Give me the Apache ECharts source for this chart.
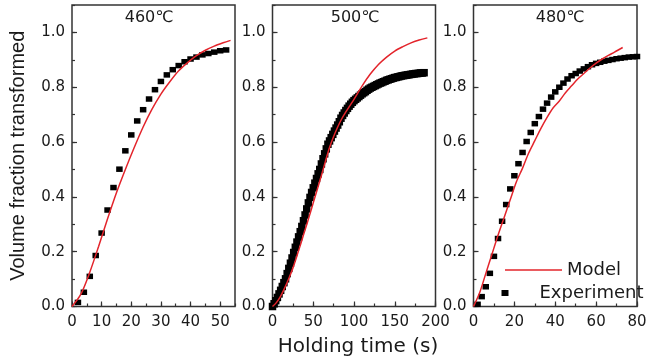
<!DOCTYPE html>
<html><head><meta charset="utf-8">
<script src="https://cdn.jsdelivr.net/npm/echarts@6/dist/echarts.min.js"></script>
<style>html,body{margin:0;padding:0;background:#fff}#c{width:647px;height:357px}</style>
</head><body><div id="c"></div>
<script>
// ---- data ----
const panelTitles = ['460℃', '500℃', '480℃'];
const yTickLabels = ['0.0', '0.2', '0.4', '0.6', '0.8', '1.0'];

const exp460Time = [2,4,6,8,10,12,14,16,18,20,22,24,26,28,30,32,34,36,38,40,42,44,46,48,50,52];
const exp460Frac = [0.015,0.052,0.110,0.186,0.268,0.352,0.434,0.501,0.568,0.626,0.677,0.718,0.757,0.791,0.821,0.845,0.864,0.879,0.893,0.903,0.910,0.918,0.923,0.928,0.933,0.936];
const model460Time = [0,3,6,9,12,15,18,21,24,27,30,33,36,39,42,45,48,51,53.5];
const model460Frac = [0,0.045,0.125,0.22,0.32,0.415,0.50,0.58,0.655,0.72,0.775,0.82,0.86,0.89,0.915,0.935,0.95,0.962,0.971];

const exp500Time = [0,2,4,6,8,10,12,14,16,18,20,22,24,26,28,30,32,34,36,38,40,42,44,46,48,50,52,54,56,58,60,62,64,66,68,70,72,74,76,78,80,82,84,86,88,90,92,94,96,98,100,102,104,106,108,110,112,114,116,118,120,122,124,126,128,130,132,134,136,138,140,142,144,146,148,150,152,154,156,158,160,162,164,166,168,170,172,174,176,178,180,182,184,186];
const exp500Frac = [0.000,0.010,0.021,0.033,0.046,0.059,0.073,0.087,0.101,0.120,0.139,0.158,0.177,0.197,0.216,0.235,0.254,0.273,0.292,0.313,0.334,0.356,0.378,0.398,0.416,0.433,0.450,0.467,0.484,0.500,0.520,0.539,0.557,0.575,0.592,0.604,0.616,0.628,0.640,0.651,0.662,0.674,0.687,0.697,0.706,0.715,0.723,0.731,0.738,0.745,0.751,0.756,0.761,0.766,0.771,0.776,0.780,0.784,0.789,0.793,0.797,0.800,0.803,0.806,0.809,0.812,0.815,0.817,0.820,0.822,0.825,0.827,0.829,0.831,0.833,0.835,0.836,0.838,0.839,0.841,0.842,0.843,0.844,0.845,0.846,0.847,0.848,0.849,0.850,0.850,0.851,0.852,0.852,0.853];
const model500Time = [0,5,10,15,20,25,30,35,40,45,50,55,60,65,70,75,80,85,90,95,100,110,120,130,140,150,160,170,180,190];
const model500Frac = [0,0.015,0.038,0.068,0.102,0.140,0.185,0.232,0.280,0.328,0.378,0.428,0.478,0.530,0.580,0.620,0.655,0.685,0.710,0.733,0.756,0.805,0.848,0.883,0.910,0.932,0.948,0.962,0.972,0.980];

const exp480Time = [2,4,6,8,10,12,14,16,18,20,22,24,26,28,30,32,34,36,38,40,42,44,46,48,50,52,54,56,58,60,62,64,66,68,70,72,74,76,78,80];
const exp480Frac = [0.008,0.036,0.072,0.121,0.183,0.248,0.311,0.372,0.429,0.477,0.521,0.562,0.602,0.635,0.667,0.693,0.720,0.742,0.764,0.783,0.800,0.815,0.830,0.842,0.850,0.859,0.867,0.875,0.882,0.887,0.891,0.895,0.898,0.901,0.904,0.906,0.908,0.910,0.911,0.912];
const model480Time = [0,3,6,9,12,15,18,21,24,27,30,33,36,39,42,45,48,51,54,57,60,63,66,69,73];
const model480Frac = [0,0.05,0.12,0.19,0.26,0.325,0.39,0.455,0.505,0.56,0.605,0.65,0.69,0.725,0.75,0.78,0.805,0.83,0.85,0.87,0.888,0.903,0.916,0.928,0.945];

// ---- chart building ----
const pair = (xs, ys) => xs.map((x, i) => [x, ys[i]]);
const panels = [
  { title: panelTitles[0], exp: pair(exp460Time, exp460Frac), model: pair(model460Time, model460Frac), xMax: 55, xStep: 10, left: 72, width: 163, titleX: 149, sym: [6.5, 5.5] },
  { title: panelTitles[1], exp: pair(exp500Time, exp500Frac), model: pair(model500Time, model500Frac), xMax: 200, xStep: 50, left: 272.5, width: 163, titleX: 355, sym: [7.5, 7.5] },
  { title: panelTitles[2], exp: pair(exp480Time, exp480Frac), model: pair(model480Time, model480Frac), xMax: 80, xStep: 20, left: 473.5, width: 163.5, titleX: 560, sym: [6.5, 5.5] }
];
const FONT = 'DejaVu Sans';
const TXT = '#1a1a1a';
const AX = '#333';
const RED = '#e3242b';
const GTOP = 5, GH = 301.5;

const xAxis = [], yAxis = [], series = [];
panels.forEach((p, i) => {
  xAxis.push({
    type: 'value', gridIndex: i, min: 0, max: p.xMax, interval: p.xStep, position: 'bottom',
    axisLine: { show: false },
    axisTick: { inside: true, length: 5, lineStyle: { color: AX, width: 1.2 } },
    axisLabel: { margin: 8, fontSize: 15, fontFamily: FONT, color: TXT, showMaxLabel: p.xMax % p.xStep === 0 },
    splitLine: { show: false },
    name: i === 1 ? 'Holding time (s)' : '', nameLocation: 'middle', nameGap: 30,
    nameTextStyle: { fontSize: 20, fontFamily: FONT, color: TXT, padding: [0, 0, 0, 8] }
  });
  xAxis.push({
    type: 'value', gridIndex: i, min: 0, max: p.xMax, interval: p.xStep / 2, position: 'bottom',
    axisLine: { show: false },
    axisTick: { inside: true, length: 3, lineStyle: { color: AX, width: 1.2 } },
    axisLabel: { show: false }, splitLine: { show: false }
  });
  yAxis.push({
    type: 'value', gridIndex: i, min: 0, max: 1.1, interval: 0.2, position: 'left',
    axisLine: { show: false },
    axisTick: { inside: true, length: 5, lineStyle: { color: AX, width: 1.2 } },
    axisLabel: { margin: 7, fontSize: 15, fontFamily: FONT, color: TXT, showMaxLabel: false,
      formatter: v => yTickLabels[Math.round(v / 0.2)] || '' },
    splitLine: { show: false },
    name: i === 0 ? 'Volume fraction transformed' : '', nameLocation: 'middle', nameGap: 44, nameRotate: 90,
    nameTextStyle: { fontSize: 20, fontFamily: 'Liberation Sans', color: TXT }
  });
  yAxis.push({
    type: 'value', gridIndex: i, min: 0, max: 1.1, interval: 0.1, position: 'left',
    axisLine: { show: false },
    axisTick: { inside: true, length: 3, lineStyle: { color: AX, width: 1.2 } },
    axisLabel: { show: false }, splitLine: { show: false }
  });
  series.push({
    type: 'scatter', name: 'Experiment', xAxisIndex: 2 * i, yAxisIndex: 2 * i, data: p.exp,
    symbol: 'rect', symbolSize: p.sym, itemStyle: { color: '#000', opacity: 1 }, z: 2
  });
  series.push({
    type: 'line', name: 'Model', xAxisIndex: 2 * i, yAxisIndex: 2 * i, data: p.model,
    symbol: 'none', showSymbol: false, smooth: 0.3,
    lineStyle: { color: RED, width: 1.5 }, itemStyle: { color: RED }, z: 3
  });
});

const option = {
  animation: false,
  backgroundColor: '#fff',
  title: panels.map(p => ({
    text: p.title, left: p.titleX, top: 10, textAlign: 'center', padding: 0,
    textStyle: { fontSize: 16, fontWeight: 'normal', fontFamily: FONT, color: TXT }
  })),
  grid: panels.map(p => ({
    left: p.left, top: GTOP, width: p.width, height: GH, show: true,
    borderColor: AX, borderWidth: 1.5, backgroundColor: 'transparent', outerBoundsMode: 'none'
  })),
  legend: [
    { data: [{ name: 'Model', icon: 'rect', itemStyle: { color: RED } }], left: 505, top: 261, padding: 0,
      itemWidth: 57, itemHeight: 1.5, selectedMode: false,
      textStyle: { fontSize: 18, fontFamily: FONT, color: TXT } },
    { data: [{ name: 'Experiment', icon: 'rect', itemStyle: { color: '#000', opacity: 1 } }], left: 501.5, top: 284, padding: 0,
      itemWidth: 7, itemHeight: 6, selectedMode: false,
      textStyle: { fontSize: 18, fontFamily: FONT, color: TXT, padding: [0, 0, 0, 26] } }
  ],
  xAxis, yAxis, series
};
echarts.init(document.getElementById('c'), null, { renderer: 'canvas' }).setOption(option);
</script>
</body></html>
